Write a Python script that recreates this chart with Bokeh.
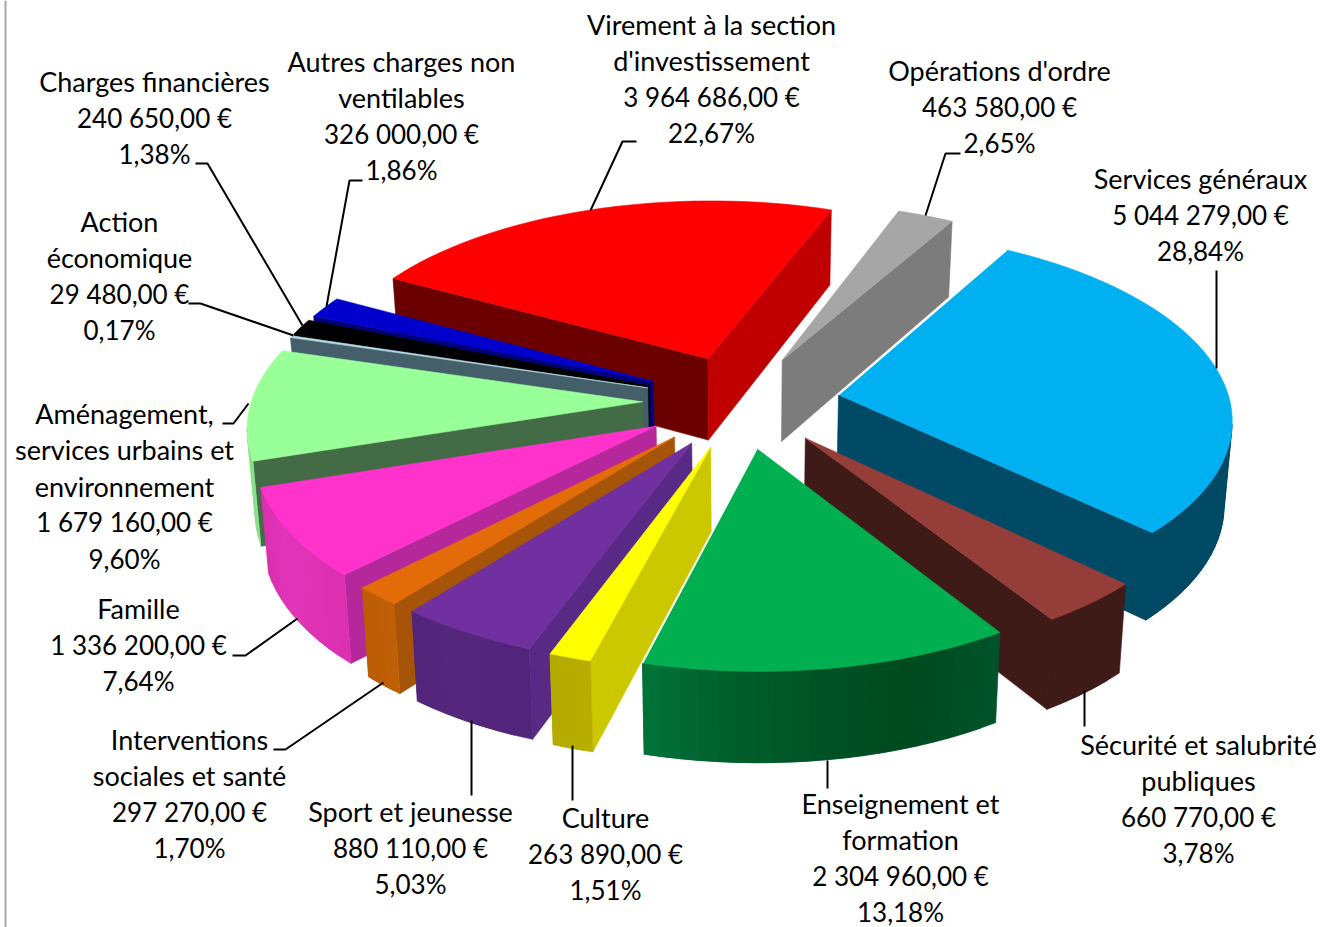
import numpy as np
from bokeh.plotting import figure
from bokeh.models import Range1d
from bokeh.core.properties import value
from bokeh.embed import file_html
from bokeh.resources import INLINE

NAMES = [["Services généraux"],["Sécurité et salubrité","publiques"],["Enseignement et","formation"],["Culture"],
         ["Sport et jeunesse"],["Interventions","sociales et santé"],["Famille"],["Aménagement,","services urbains et","environnement"],
         ["Action","économique"],["Charges financières"],["Autres charges non","ventilables"],["Virement à la section","d'investissement"],["Opérations d'ordre"]]
VALUES = [5044279,660770,2304960,263890,880110,297270,1336200,1679160,29480,240650,326000,3964686,463580]
AMOUNTS = ["5 044 279,00 €","660 770,00 €","2 304 960,00 €","263 890,00 €","880 110,00 €","297 270,00 €","1 336 200,00 €","1 679 160,00 €","29 480,00 €","240 650,00 €","326 000,00 €","3 964 686,00 €","463 580,00 €"]
PERCENTS = ["28,84%","3,78%","13,18%","1,51%","5,03%","1,70%","7,64%","9,60%","0,17%","1,38%","1,86%","22,67%","2,65%"]

# --- style: top face, face along start radius, face along end radius, rim colour stops (start ... end)
TOP  = ["#00B0F0","#953D39","#00B050","#FFFF00","#7030A0","#E36C09","#FF33CC","#99FF99","#B7DEE8","#000000","#0000CC","#FF0000","#A6A6A6"]
CUT0 = ["#004A66","#3F1B17","#3F1B17","#CCC800","#592A85","#A65508","#B5289C","#426B46","#455F6A","#000000","#00007A","#6B0000","#7C7C7C"]
CUT1 = ["#004A66","#3F1B17","#004A20","#CCC800","#592A85","#A65508","#B5289C","#426B46","#455F6A","#000000","#00007A","#C00000","#7C7C7C"]
RIM  = [("#004A66","#004A66"),("#3F1B17","#3F1B17"),("#00522A","#004A20","#005226","#00602C","#00753A"),("#B8AE00","#B4AA00"),
        ("#50257A","#55267C","#51247A"),("#BF5F06","#BA5C06"),("#DC30B0","#E334BA","#D92FAE"),("#8CE08C","#8CE08C"),
        ("#455F6A","#455F6A"),("#000000","#000000"),("#00007A","#00007A"),("#6B0000","#6B0000"),("#7C7C7C","#7C7C7C")]
DRAW_ORDER = [11,12,10,9,8,7,6,5,4,3,0,1,2]

# --- projection of the pie plane on to the page
CX, CY, RADIUS, TILT, PERSP = 740.78, 400.77, 391.3, 0.4732, 0.1153
START = np.radians(29.97)
EXPLODE = 0.252
DEPTH, DEPTH_VAR, LEAN = 83.0, 0.08, 0.0165
def proj(X, Y):
    w = 1 + PERSP*Y
    return CX + RADIUS*X/w, CY - RADIUS*TILT*Y/w
def lower(x, y, Y):
    return x + LEAN*(CX-x), y + DEPTH*(1-DEPTH_VAR*Y)

fr = np.array(VALUES)/sum(VALUES)
cum = np.concatenate([[0],np.cumsum(fr)])*2*np.pi

def hexrgb(c): return np.array([int(c[k:k+2],16) for k in (1,3,5)],float)
def mix(stops,u):
    rgb=np.array([hexrgb(s) for s in stops])
    pos=np.linspace(0,1,len(stops))
    v=[np.interp(u,pos,rgb[:,k]) for k in range(3)]
    return "#%02x%02x%02x"%tuple(int(round(q)) for q in v)

xs,ys,fills=[],[],[]
edge_x,edge_y=[],[]
for i in DRAW_ORDER:
    t=np.linspace(START+cum[i],START+cum[i+1],max(6,int(fr[i]*160)))
    m=t.mean()
    X=np.r_[0,np.sin(t)]+EXPLODE*np.sin(m)
    Y=np.r_[0,np.cos(t)]+EXPLODE*np.cos(m)
    x,y=proj(X,Y)
    bx,by=lower(x,y,Y)
    n=len(x)
    for a in range(n):
        b=(a+1)%n
        if x[b]<x[a]:          # the edge faces the viewer, so its wall is seen
            if a==0: col=CUT0[i]
            elif b==0: col=CUT1[i]
            else: col=mix(RIM[i],(a-1)/(n-2))
            # rim pieces reach one step further so that no seam shows between them
            c=b+1 if (a>0 and b>0 and b+1<n and x[b+1]<x[b]) else b
            xs.append([x[a],x[b],x[c],bx[c],bx[b],bx[a]]);ys.append([y[a],y[b],y[c],by[c],by[b],by[a]]);fills.append(col)
    xs.append(list(x));ys.append(list(y));fills.append(TOP[i])
    if i==0:
        edge_x.append([x[0],x[1]]);edge_y.append([y[0],y[1]])
    if i==2:
        edge_x.append([x[0],x[-1]]);edge_y.append([y[0],y[-1]])

p=figure(width=1320,height=927,x_range=Range1d(0,1320),y_range=Range1d(927,0),toolbar_location=None,output_backend="svg",min_border=0)
p.axis.visible=False;p.grid.visible=False;p.outline_line_color=None
p.patches(xs,ys,fill_color=fills,line_color=fills,line_width=0.6)
p.multi_line(edge_x,edge_y,line_color="white",line_width=1.5)
# frame remnant on the left
p.segment([5],[0],[5],[927],line_color="#A6A6A6",line_width=2)

# --- data labels: centre x, first line y, leader polyline
LABEL_X = [1200,1198,900,605,410,189,138,124,119,154,401,711,999]
LABEL_Y = [178,744,803,817,811,739,608,413,221,81,61,24,70]
LINE_GAP = 36.3
LEADERS = [([1216,1216],[270,368]),([1084,1084],[690,726]),([827,827],[760,788]),([572,572],[745,800]),([471,471],[720,795]),
           ([273,285,383],[749,749,682]),([232,245,297],[655,655,618]),([222,233,248],[423,423,403]),([188,200,293],[303,303,335]),
           ([195,207,302],[163,163,325]),([362,349,326],[180,180,306]),([636,622,590],[141,141,210]),([960,945,925],[153,153,215])]
nx,ny,nt,vx,vy,vt=[],[],[],[],[],[]
for i,nm in enumerate(NAMES):
    for j,s in enumerate(nm):
        nx.append(LABEL_X[i]);ny.append(LABEL_Y[i]+j*LINE_GAP);nt.append(s)
    for j,s in enumerate([AMOUNTS[i],PERCENTS[i]]):
        vx.append(LABEL_X[i]);vy.append(LABEL_Y[i]+(j+len(nm))*LINE_GAP);vt.append(s)
p.text(nx,ny,text=nt,text_align="center",text_baseline="middle",text_font=value("Lato"),text_font_size="27px",text_color="black")
p.text(vx,vy,text=vt,text_align="center",text_baseline="middle",text_font=value("Lato"),text_font_size="26px",text_color="black")
p.multi_line([l[0] for l in LEADERS],[l[1] for l in LEADERS],line_color="black",line_width=2)
open("out.html","w").write(file_html(p,INLINE))
